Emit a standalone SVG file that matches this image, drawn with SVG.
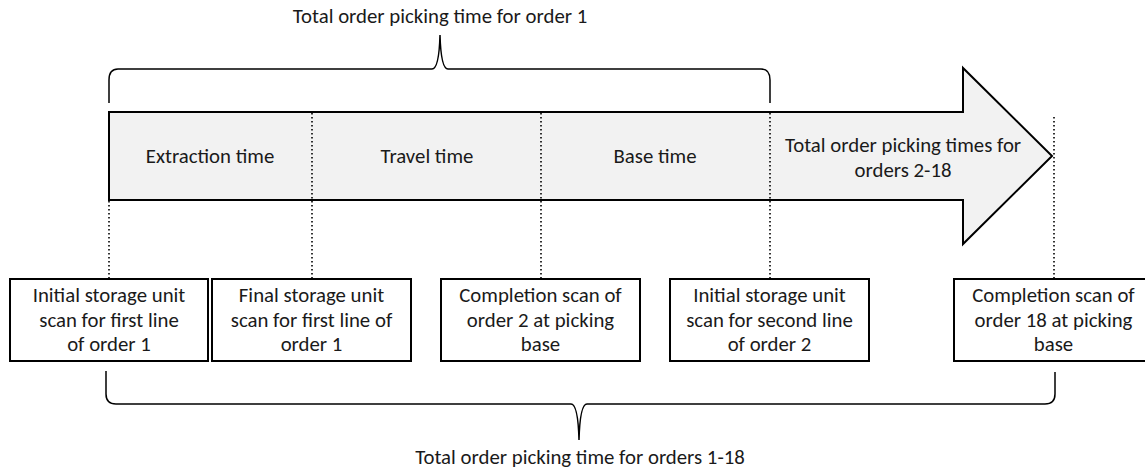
<svg xmlns="http://www.w3.org/2000/svg" width="1145" height="472" viewBox="0 0 1145 472">
<style>
text{font-family:Carlito,"Liberation Sans",Arial,sans-serif;font-size:20.8px;fill:#1a1a1a;text-anchor:middle}
.box{fill:#fff;stroke:#000;stroke-width:2}
.dot{stroke:#000;stroke-width:1.6;stroke-dasharray:1.6 2.4;fill:none}
.brace{fill:none;stroke:#000;stroke-width:1.5}
</style>
<rect width="1145" height="472" fill="#fff"/>
<g id="arrow">
<polygon points="109,112 963,112 963,68 1052,156 963,244 963,200 109,200" fill="#f2f2f2" stroke="#000" stroke-width="2" stroke-linejoin="miter"/>
<text x="210" y="163">Extraction time</text>
<text x="427" y="163">Travel time</text>
<text x="655" y="163">Base time</text>
<text x="903" y="152">Total order picking times for</text>
<text x="903" y="177">orders 2-18</text>
</g>
<g id="connectors">
<line class="dot" x1="109" y1="201" x2="109" y2="279"/>
<line class="dot" x1="312" y1="113" x2="312" y2="279"/>
<line class="dot" x1="541" y1="113" x2="541" y2="279"/>
<line class="dot" x1="770" y1="113" x2="770" y2="279"/>
<line class="dot" x1="1054" y1="117" x2="1054" y2="279"/>
</g>
<g id="brace-top">
<path class="brace" d="M109,103 L109,80 Q109,69 118,69 L432,69 Q439,69 440,35 Q441,69 448,69 L761,69 Q770,69 770,80 L770,103"/>
<text x="440" y="23">Total order picking time for order 1</text>
</g>
<g id="box1">
<rect class="box" x="10" y="279" width="198" height="82"/>
<text x="109" y="302">Initial storage unit</text>
<text x="109" y="326.5">scan for first line</text>
<text x="109" y="351">of order 1</text>
</g>
<g id="box2">
<rect class="box" x="212" y="279" width="199" height="82"/>
<text x="311.5" y="302">Final storage unit</text>
<text x="311.5" y="326.5">scan for first line of</text>
<text x="311.5" y="351">order 1</text>
</g>
<g id="box3">
<rect class="box" x="441" y="279" width="199" height="82"/>
<text x="540.5" y="302">Completion scan of</text>
<text x="540.5" y="326.5">order 2 at picking</text>
<text x="540.5" y="351">base</text>
</g>
<g id="box4">
<rect class="box" x="670" y="279" width="199" height="82"/>
<text x="769.5" y="302">Initial storage unit</text>
<text x="769.5" y="326.5">scan for second line</text>
<text x="769.5" y="351">of order 2</text>
</g>
<g id="box5">
<rect class="box" x="954" y="279" width="199" height="82"/>
<text x="1053.5" y="302">Completion scan of</text>
<text x="1053.5" y="326.5">order 18 at picking</text>
<text x="1053.5" y="351">base</text>
</g>
<g id="brace-bottom">
<path class="brace" d="M106,371 L106,394 Q106,404 116,404 L571,404 Q578,404 579,440 Q580,404 587,404 L1045,404 Q1055,404 1055,394 L1055,372"/>
<text x="580" y="464">Total order picking time for orders 1-18</text>
</g>
</svg>
